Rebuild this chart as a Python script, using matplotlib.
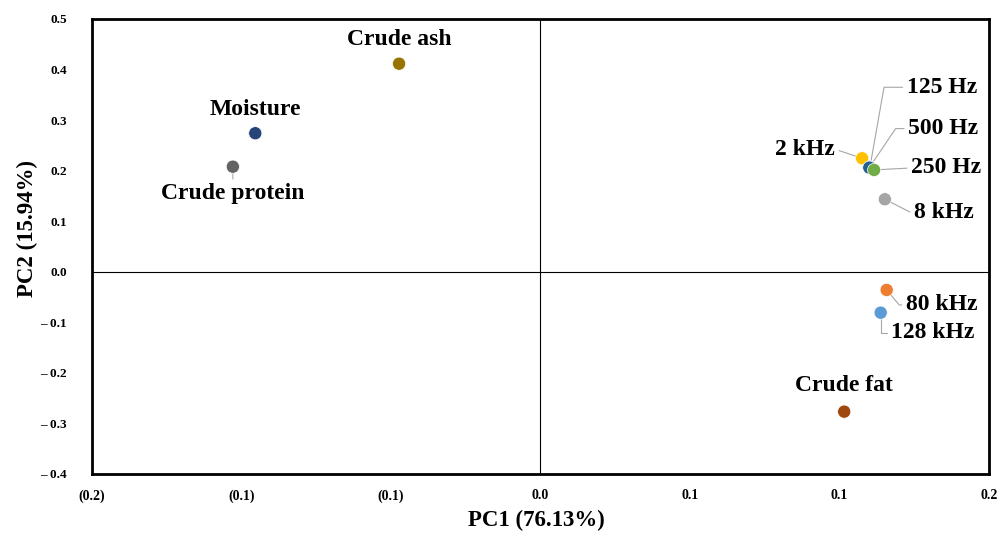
import matplotlib
matplotlib.use("Agg")
import matplotlib.pyplot as plt

plt.rcParams['font.family'] = ['Liberation Serif', 'DejaVu Serif']
plt.rcParams['font.weight'] = 'bold'

# PCA scores / loadings
labels = ['Crude ash', 'Moisture', 'Crude protein', 'Crude fat',
          '2 kHz', '125 Hz', '500 Hz', '250 Hz', '8 kHz', '80 kHz', '128 kHz']
pc1 = [-0.0473, -0.0954, -0.1029, 0.1016,
       0.1076, 0.1102, 0.1100, 0.1116, 0.1152, 0.1158, 0.1138]
pc2 = [0.4116, 0.2740, 0.2079, -0.2767,
       0.2245, 0.2067, 0.2060, 0.2014, 0.1434, -0.0360, -0.0809]
colors = ['#997300', '#264478', '#636363', '#9E480E',
          '#FFC000', '#4472C4', '#255E91', '#70AD47', '#A5A5A5', '#ED7D31', '#5B9BD5']

# label offsets in pixels (dx, dy) and leader style
offsets = [(0, 24), (0, 24), (0, -27), (0, 26),
           (-57, 9), (72, 80), (74, 39), (72, 2), (59, -13), (55, -15), (52, -20)]
leaders = [None, None, ('straight', (0.5, 1.0)), None,
           ('straight', (1.0, 0.5)), ('angle', 80), ('angle', 56), ('straight', (0.0, 0.5)),
           ('angle', -27), ('angle', -50), ('angle', 90)]

xticks = [-0.15, -0.10, -0.05, 0.0, 0.05, 0.10, 0.15]
xticklabels = ['(0.2)', '(0.1)', '(0.1)', '0.0', '0.1', '0.1', '0.2']
yticks = [-0.4, -0.3, -0.2, -0.1, 0.0, 0.1, 0.2, 0.3, 0.4, 0.5]
yticklabels = ['– 0.4', '– 0.3', '– 0.2', '– 0.1', '0.0', '0.1', '0.2', '0.3', '0.4', '0.5']

fig = plt.figure(figsize=(10.06, 5.38), dpi=100)
ax = fig.add_axes([0.0915, 0.119, 0.8915, 0.8457])

ax.axhline(0, color='black', lw=0.8, zorder=1)
ax.axvline(0, color='black', lw=0.8, zorder=1)

ax.scatter(pc1, pc2, s=90, c=colors, edgecolors='white', linewidths=0.5, zorder=4)

for i, lab in enumerate(labels):
    dx, dy = offsets[i]
    ld = leaders[i]
    arrow = None
    if ld is not None:
        if ld[0] == 'straight':
            arrow = dict(arrowstyle='-', color='#A6A6A6', lw=0.8, shrinkA=1, shrinkB=0,
                         relpos=ld[1])
        else:
            arrow = dict(arrowstyle='-', color='#A6A6A6', lw=0.8, shrinkA=1, shrinkB=0,
                         relpos=(0.0, 0.5),
                         connectionstyle='angle,angleA=0,angleB=%d,rad=0' % ld[1])
    ax.annotate(lab, (pc1[i], pc2[i]), xytext=(dx, dy), textcoords='offset pixels',
                ha='center', va='center', fontsize=17, fontweight='bold',
                arrowprops=arrow, zorder=3)

ax.set_xlim(-0.15, 0.15)
ax.set_ylim(-0.4, 0.5)
ax.set_xticks(xticks)
ax.set_xticklabels(xticklabels, fontsize=10, fontweight='bold')
ax.set_yticks(yticks)
ax.set_yticklabels(yticklabels, fontsize=9.5, fontweight='bold')
ax.tick_params(axis='x', length=0, pad=11)
ax.tick_params(axis='y', length=0, pad=18)

for sp in ax.spines.values():
    sp.set_linewidth(2)
    sp.set_color('black')

ax.set_xlabel('PC1 (76.13%)', fontsize=16.5, fontweight='bold', va='center')
ax.set_ylabel('PC2 (15.94%)', fontsize=16.5, fontweight='bold', va='center')
ax.xaxis.set_label_coords(0.495, -0.103)
ax.yaxis.set_label_coords(-0.0725, 0.54)

fig.savefig('out.png', dpi=100)
